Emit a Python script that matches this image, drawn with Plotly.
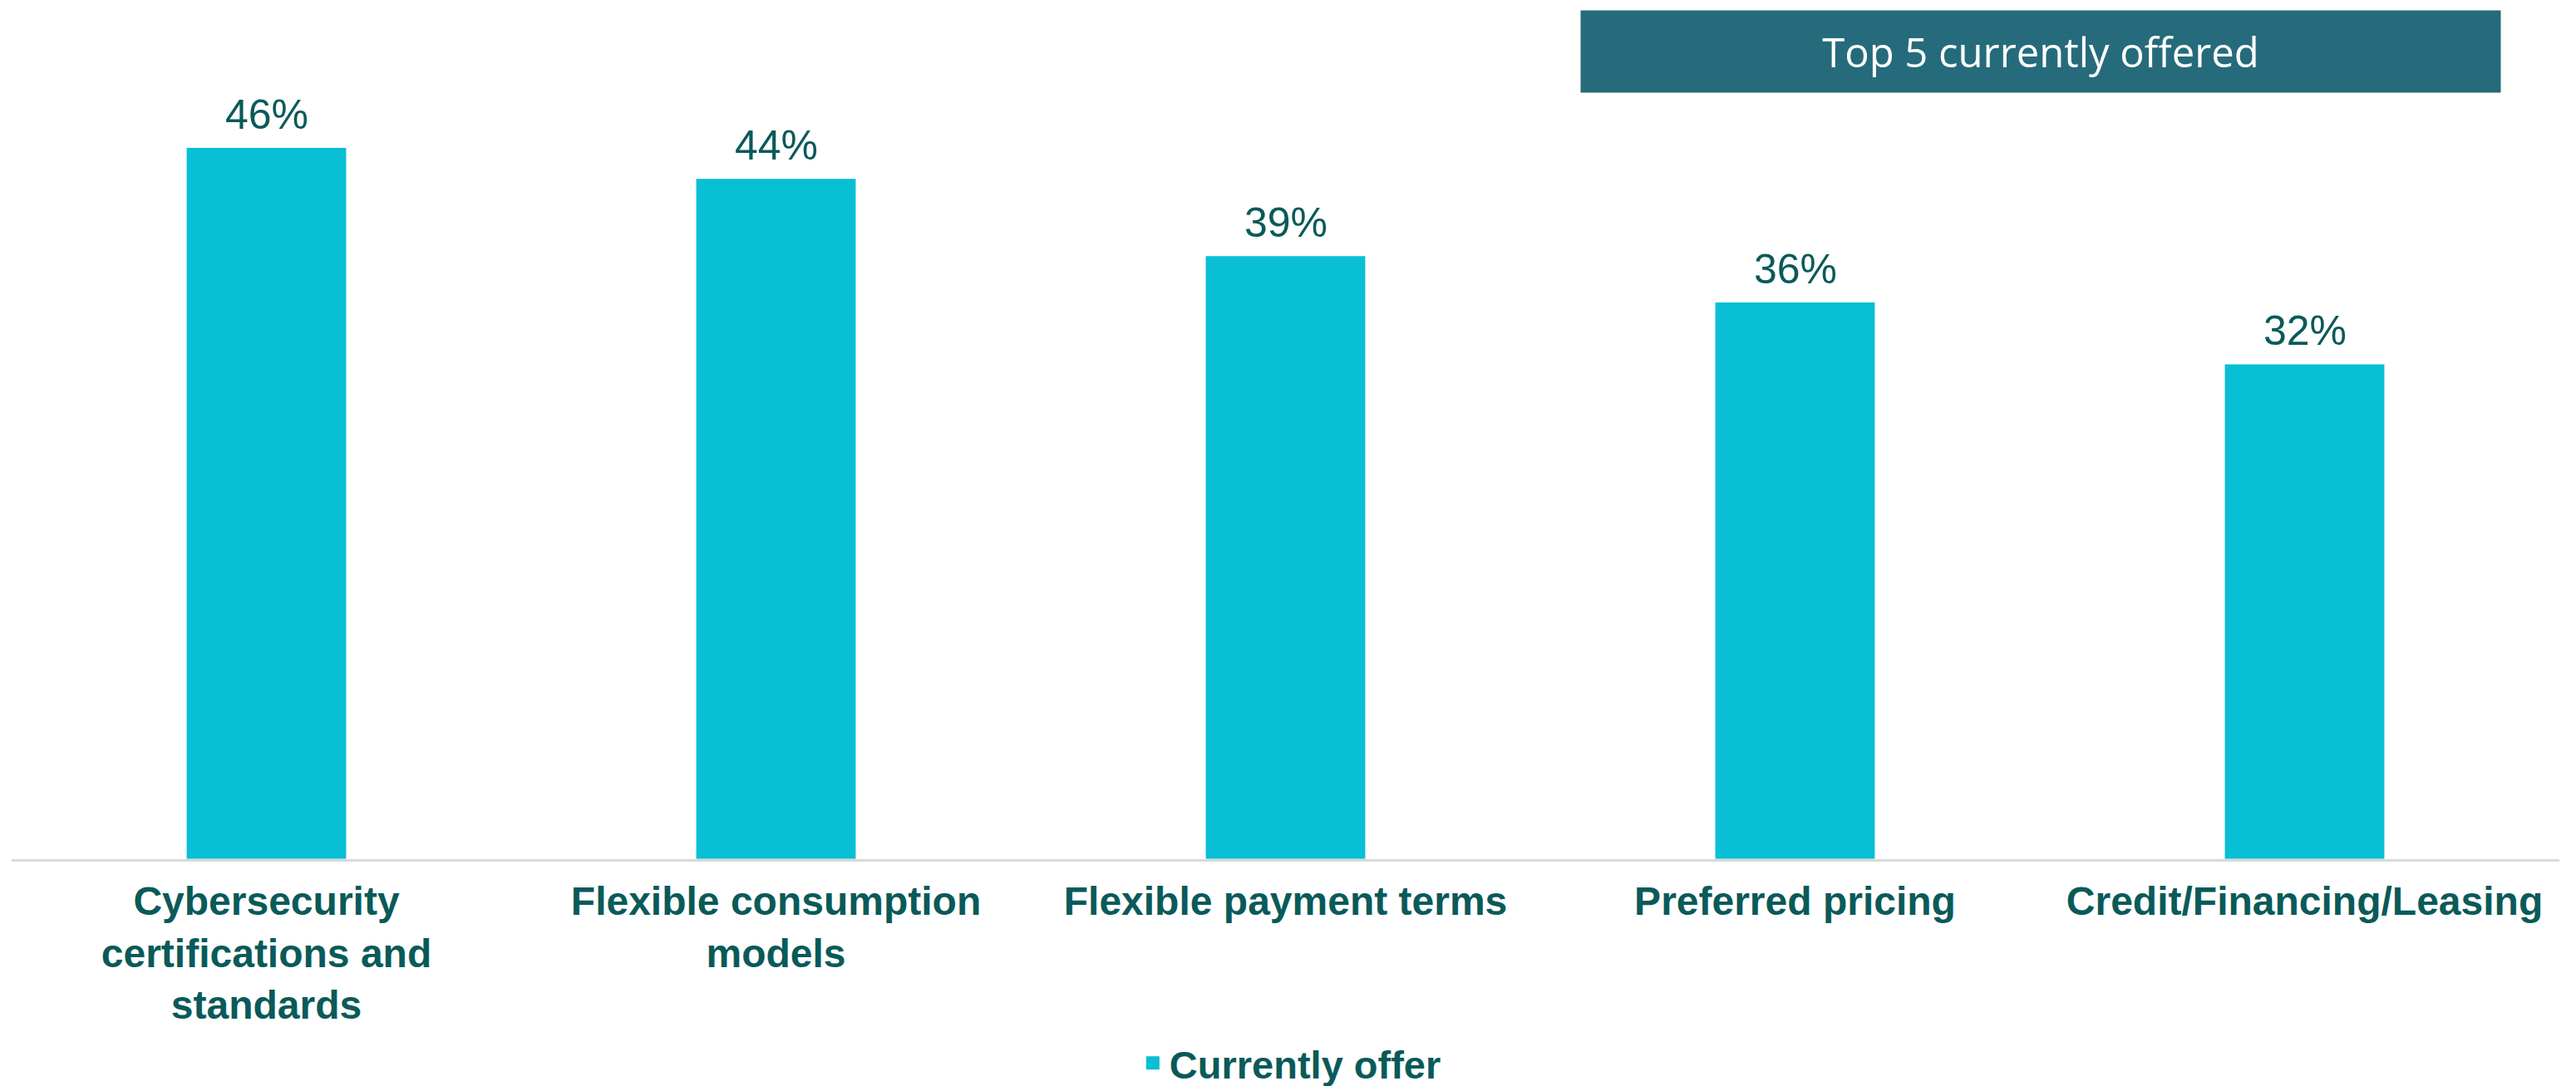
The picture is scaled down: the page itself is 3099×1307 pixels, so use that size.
import plotly.graph_objects as go

categories = [
    "Cybersecurity<br>certifications and<br>standards",
    "Flexible consumption<br>models",
    "Flexible payment terms",
    "Preferred pricing",
    "Credit/Financing/Leasing",
]
currently_offer = [46, 44, 39, 36, 32]
value_labels = [f"{v}%" for v in currently_offer]

BAR_COLOR = "#09BFD5"
TEXT_DARK = "#0A5A59"
BOX_COLOR = "#266B7B"
AXIS_GREY = "#D9D9D9"
CAT_FONT = "Liberation Sans Narrow, Liberation Sans, Arial"

fig = go.Figure()
fig.add_trace(go.Bar(
    x=categories,
    y=currently_offer,
    name="Currently offer",
    marker=dict(color=BAR_COLOR, line=dict(width=0)),
    width=0.313,
    cliponaxis=False,
    showlegend=False,
))
# legend-only entry so the swatch can be a bigger square
fig.add_trace(go.Scatter(
    x=[None], y=[None],
    mode="markers",
    name="Currently offer",
    marker=dict(symbol="square", size=30, color=BAR_COLOR),
    showlegend=True,
))

# value labels above the bars
label_annots = [
    dict(
        x=cat, y=val, text=lab,
        xref="x", yref="y",
        xanchor="center", yanchor="bottom",
        yshift=10, showarrow=False,
        font=dict(family="Liberation Sans, Arial", size=50, color=TEXT_DARK),
    )
    for cat, val, lab in zip(categories, currently_offer, value_labels)
]

fig.update_layout(
    width=3099, height=1307,
    margin=dict(l=6, r=28, t=7, b=265),
    paper_bgcolor="white",
    plot_bgcolor="white",
    showlegend=True,
    legend=dict(
        orientation="h",
        xref="container", yref="container",
        x=0.4985, xanchor="center",
        y=0.027, yanchor="middle",
        font=dict(family=CAT_FONT, size=47, color=TEXT_DARK, weight="bold"),
    ),
    xaxis=dict(
        showline=True, linecolor=AXIS_GREY, linewidth=3,
        showgrid=False, ticks="",
        tickfont=dict(family=CAT_FONT, size=48, color=TEXT_DARK, weight="bold"),
        ticklabelstandoff=7,
    ),
    yaxis=dict(
        range=[0, 54.76],
        visible=False, showgrid=False, zeroline=False,
    ),
    annotations=label_annots + [
        dict(
            text="Top 5 currently offered",
            xref="paper", yref="paper",
            x=0.7964, y=0.9536,
            xanchor="center", yanchor="middle",
            showarrow=False,
            width=1106, height=98,
            bgcolor=BOX_COLOR, borderpad=0,
            font=dict(family="Open Sans, Noto Sans", size=49, color="white"),
        ),
    ],
)

fig.write_html("out.html")
